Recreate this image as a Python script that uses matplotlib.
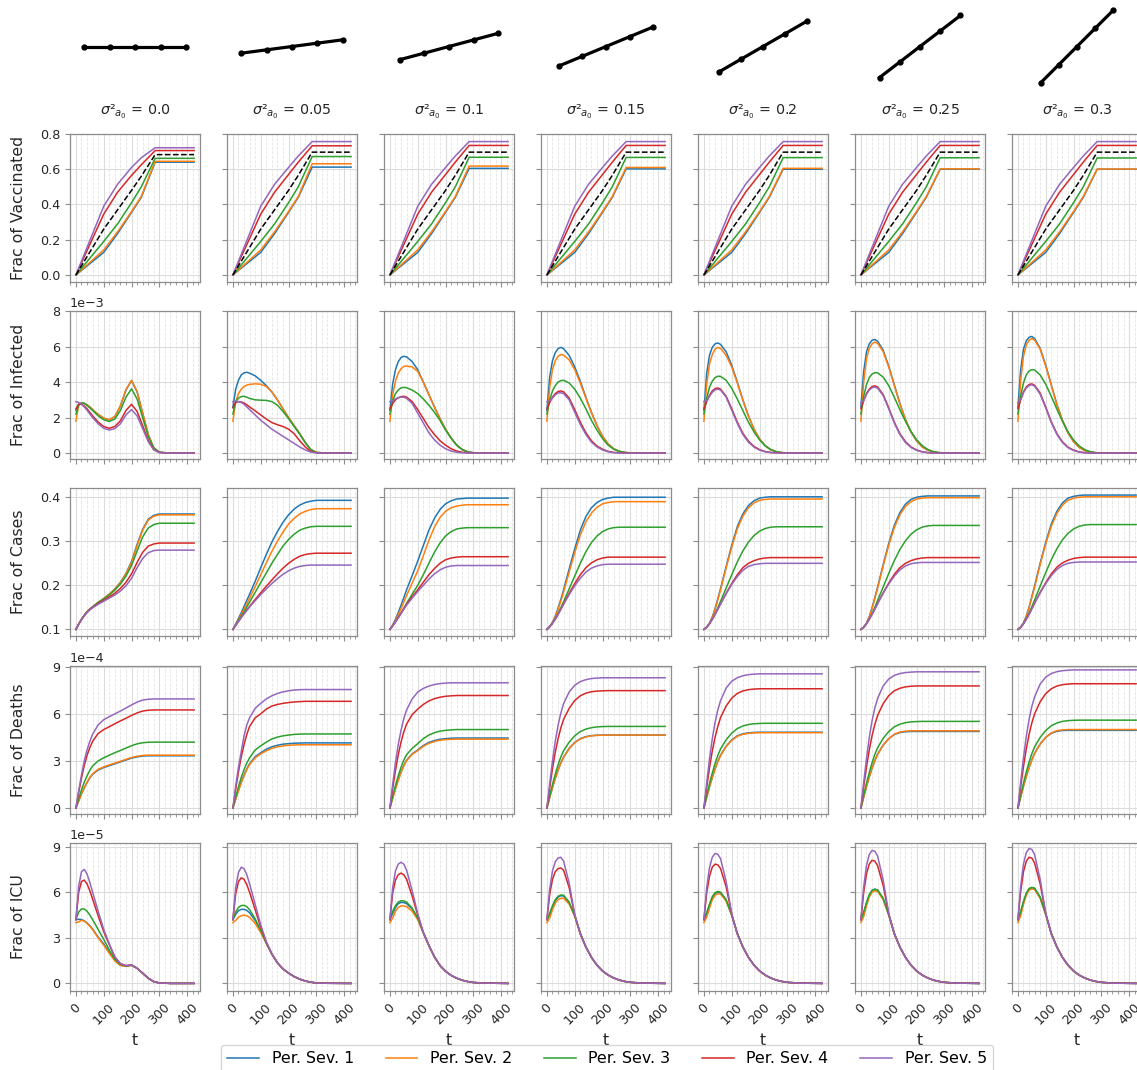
import numpy as np
import matplotlib
matplotlib.use('Agg')
import matplotlib.pyplot as plt
from matplotlib.ticker import MultipleLocator

# ---------------- data ----------------
sigmas = ['0.0', '0.05', '0.1', '0.15', '0.2', '0.25', '0.3']
series_labels = ['Per. Sev. 1', 'Per. Sev. 2', 'Per. Sev. 3', 'Per. Sev. 4', 'Per. Sev. 5']
row_labels = ['Frac of Vaccinated', 'Frac of Infected', 'Frac of Cases', 'Frac of Deaths', 'Frac of ICU']

# top icons: a segment of fixed length tilted more for larger variance
icon_x = [[-0.5, -0.25, 0.0, 0.25, 0.5],
          [-0.4957, -0.2479, 0.0, 0.2479, 0.4957],
          [-0.4830, -0.2415, 0.0, 0.2415, 0.4830],
          [-0.4619, -0.2310, 0.0, 0.2310, 0.4619],
          [-0.4330, -0.2165, 0.0, 0.2165, 0.4330],
          [-0.3967, -0.1984, 0.0, 0.1984, 0.3967],
          [-0.3536, -0.1768, 0.0, 0.1768, 0.3536]]
icon_y = [[0.0, 0.0, 0.0, 0.0, 0.0],
          [-0.0653, -0.0326, 0.0, 0.0326, 0.0653],
          [-0.1294, -0.0647, 0.0, 0.0647, 0.1294],
          [-0.1913, -0.0957, 0.0, 0.0957, 0.1913],
          [-0.25, -0.125, 0.0, 0.125, 0.25],
          [-0.3044, -0.1522, 0.0, 0.1522, 0.3044],
          [-0.3536, -0.1768, 0.0, 0.1768, 0.3536]]

# vaccinated (piecewise linear schedule)
t_vacc = [0, 100, 150, 200, 235, 285, 425]
vacc_0 = [[0, 0.128, 0.235, 0.355, 0.44, 0.64, 0.64],
          [0, 0.142, 0.245, 0.36, 0.445, 0.645, 0.645],
          [0, 0.19, 0.29, 0.41, 0.50, 0.662, 0.662],
          [0, 0.345, 0.47, 0.565, 0.625, 0.706, 0.706],
          [0, 0.39, 0.515, 0.61, 0.665, 0.722, 0.722]]
vacc_1 = [[0, 0.128, 0.235, 0.355, 0.44, 0.612, 0.612],
          [0, 0.142, 0.245, 0.36, 0.445, 0.631, 0.631],
          [0, 0.19, 0.29, 0.41, 0.50, 0.672, 0.672],
          [0, 0.345, 0.47, 0.57, 0.64, 0.733, 0.733],
          [0, 0.39, 0.515, 0.61, 0.675, 0.757, 0.757]]
vacc_2 = [[0, 0.128, 0.235, 0.355, 0.44, 0.605, 0.605],
          [0, 0.142, 0.245, 0.36, 0.445, 0.618, 0.618],
          [0, 0.19, 0.29, 0.41, 0.50, 0.668, 0.668],
          [0, 0.345, 0.47, 0.57, 0.64, 0.735, 0.735],
          [0, 0.39, 0.515, 0.61, 0.675, 0.757, 0.757]]
vacc_3 = [[0, 0.128, 0.235, 0.355, 0.44, 0.602, 0.602],
          [0, 0.142, 0.245, 0.36, 0.445, 0.61, 0.61],
          [0, 0.19, 0.29, 0.41, 0.50, 0.667, 0.667],
          [0, 0.345, 0.47, 0.57, 0.64, 0.735, 0.735],
          [0, 0.39, 0.515, 0.61, 0.675, 0.757, 0.757]]
vacc_4 = [[0, 0.128, 0.235, 0.355, 0.44, 0.600, 0.600],
          [0, 0.142, 0.245, 0.36, 0.445, 0.605, 0.605],
          [0, 0.19, 0.29, 0.41, 0.50, 0.666, 0.666],
          [0, 0.345, 0.47, 0.57, 0.64, 0.735, 0.735],
          [0, 0.39, 0.515, 0.61, 0.675, 0.757, 0.757]]
vacc_5 = [[0, 0.128, 0.235, 0.355, 0.44, 0.600, 0.600],
          [0, 0.142, 0.245, 0.36, 0.445, 0.602, 0.602],
          [0, 0.19, 0.29, 0.41, 0.50, 0.665, 0.665],
          [0, 0.345, 0.47, 0.57, 0.64, 0.735, 0.735],
          [0, 0.39, 0.515, 0.61, 0.675, 0.757, 0.757]]
vacc_6 = [[0, 0.128, 0.235, 0.355, 0.44, 0.600, 0.600],
          [0, 0.142, 0.245, 0.36, 0.445, 0.601, 0.601],
          [0, 0.19, 0.29, 0.41, 0.50, 0.664, 0.664],
          [0, 0.345, 0.47, 0.57, 0.64, 0.735, 0.735],
          [0, 0.39, 0.515, 0.61, 0.675, 0.757, 0.757]]
vacc_avg = [[0, 0.26, 0.37, 0.48, 0.56, 0.683, 0.683],
            [0, 0.26, 0.37, 0.48, 0.565, 0.697, 0.697],
            [0, 0.26, 0.37, 0.48, 0.565, 0.697, 0.697],
            [0, 0.26, 0.37, 0.48, 0.565, 0.697, 0.697],
            [0, 0.26, 0.37, 0.48, 0.565, 0.697, 0.697],
            [0, 0.26, 0.37, 0.48, 0.565, 0.697, 0.697],
            [0, 0.26, 0.37, 0.48, 0.565, 0.697, 0.697]]

t_days = [0, 10, 20, 30, 40, 50, 60, 80, 100, 120, 140, 160, 180, 200, 220, 240, 260, 280, 300, 340, 425]

# infected, units of 1e-3
inf_0 = [[2.4, 2.75, 2.83, 2.8, 2.72, 2.6, 2.45, 2.18, 1.97, 1.87, 2.05, 2.65, 3.55, 4.08, 3.45, 2.25, 1.05, 0.3, 0.05, 0.0, 0.0],
         [1.8, 2.7, 2.83, 2.8, 2.72, 2.6, 2.45, 2.18, 1.97, 1.88, 2.06, 2.67, 3.58, 4.1, 3.47, 2.25, 1.05, 0.3, 0.05, 0.0, 0.0],
         [2.2, 2.7, 2.82, 2.8, 2.68, 2.55, 2.4, 2.1, 1.88, 1.78, 1.92, 2.4, 3.15, 3.62, 3.05, 2.0, 0.95, 0.28, 0.05, 0.0, 0.0],
         [2.5, 2.75, 2.75, 2.65, 2.5, 2.3, 2.1, 1.75, 1.5, 1.4, 1.5, 1.82, 2.4, 2.75, 2.35, 1.55, 0.72, 0.2, 0.04, 0.0, 0.0],
         [2.9, 2.85, 2.75, 2.6, 2.42, 2.2, 2.0, 1.65, 1.4, 1.3, 1.38, 1.65, 2.15, 2.45, 2.1, 1.38, 0.65, 0.18, 0.03, 0.0, 0.0]]
inf_1 = [[2.6, 3.6, 4.1, 4.4, 4.52, 4.55, 4.5, 4.35, 4.1, 3.8, 3.45, 3.0, 2.5, 2.0, 1.55, 1.1, 0.6, 0.2, 0.04, 0.0, 0.0],
         [1.8, 2.9, 3.35, 3.6, 3.75, 3.83, 3.87, 3.9, 3.88, 3.75, 3.45, 3.0, 2.5, 2.0, 1.55, 1.1, 0.6, 0.2, 0.04, 0.0, 0.0],
         [2.2, 2.9, 3.1, 3.18, 3.2, 3.15, 3.08, 3.0, 2.98, 2.97, 2.9, 2.7, 2.35, 1.95, 1.5, 1.08, 0.6, 0.2, 0.04, 0.0, 0.0],
         [2.55, 2.85, 2.9, 2.88, 2.82, 2.72, 2.6, 2.38, 2.15, 1.92, 1.72, 1.6, 1.5, 1.35, 1.1, 0.7, 0.35, 0.1, 0.02, 0.0, 0.0],
         [2.9, 2.92, 2.9, 2.85, 2.75, 2.6, 2.45, 2.15, 1.85, 1.6, 1.35, 1.15, 0.95, 0.75, 0.55, 0.35, 0.18, 0.06, 0.02, 0.0, 0.0]]
inf_2 = [[2.4, 3.9, 4.7, 5.15, 5.38, 5.45, 5.42, 5.15, 4.7, 4.0, 3.3, 2.6, 1.95, 1.35, 0.85, 0.45, 0.2, 0.07, 0.02, 0.0, 0.0],
         [1.8, 3.3, 4.05, 4.5, 4.75, 4.88, 4.9, 4.85, 4.6, 4.0, 3.3, 2.6, 1.95, 1.35, 0.85, 0.45, 0.2, 0.07, 0.02, 0.0, 0.0],
         [2.2, 2.95, 3.35, 3.55, 3.67, 3.7, 3.68, 3.55, 3.35, 3.05, 2.7, 2.3, 1.85, 1.3, 0.85, 0.45, 0.2, 0.07, 0.02, 0.0, 0.0],
         [2.5, 2.8, 3.0, 3.12, 3.18, 3.2, 3.15, 2.9, 2.45, 1.95, 1.45, 1.05, 0.7, 0.45, 0.25, 0.12, 0.05, 0.02, 0.01, 0.0, 0.0],
         [2.9, 2.95, 3.05, 3.12, 3.15, 3.15, 3.08, 2.8, 2.25, 1.7, 1.15, 0.75, 0.45, 0.25, 0.12, 0.05, 0.02, 0.01, 0.0, 0.0, 0.0]]
inf_3 = [[2.4, 4.3, 5.2, 5.65, 5.88, 5.95, 5.88, 5.5, 4.85, 4.05, 3.15, 2.3, 1.55, 0.95, 0.52, 0.25, 0.1, 0.04, 0.01, 0.0, 0.0],
         [1.8, 3.7, 4.7, 5.2, 5.45, 5.55, 5.52, 5.25, 4.7, 3.95, 3.1, 2.28, 1.55, 0.95, 0.52, 0.25, 0.1, 0.04, 0.01, 0.0, 0.0],
         [2.2, 3.0, 3.5, 3.8, 4.0, 4.08, 4.1, 3.95, 3.6, 3.1, 2.5, 1.85, 1.3, 0.82, 0.45, 0.22, 0.1, 0.04, 0.01, 0.0, 0.0],
         [2.5, 2.85, 3.15, 3.35, 3.47, 3.5, 3.45, 3.1, 2.45, 1.75, 1.15, 0.7, 0.4, 0.22, 0.1, 0.04, 0.02, 0.01, 0.0, 0.0, 0.0],
         [2.9, 2.95, 3.1, 3.28, 3.38, 3.4, 3.35, 3.0, 2.3, 1.62, 1.05, 0.62, 0.35, 0.18, 0.08, 0.03, 0.01, 0.0, 0.0, 0.0, 0.0]]
inf_4 = [[2.4, 4.5, 5.5, 5.95, 6.15, 6.2, 6.12, 5.7, 4.95, 4.0, 3.0, 2.1, 1.35, 0.8, 0.42, 0.2, 0.08, 0.03, 0.01, 0.0, 0.0],
         [1.8, 3.9, 5.0, 5.55, 5.85, 5.95, 5.9, 5.5, 4.85, 3.95, 2.98, 2.1, 1.35, 0.8, 0.42, 0.2, 0.08, 0.03, 0.01, 0.0, 0.0],
         [2.2, 3.1, 3.7, 4.05, 4.25, 4.33, 4.32, 4.1, 3.65, 3.05, 2.4, 1.75, 1.2, 0.75, 0.42, 0.2, 0.08, 0.03, 0.01, 0.0, 0.0],
         [2.5, 2.9, 3.25, 3.5, 3.63, 3.67, 3.6, 3.2, 2.5, 1.75, 1.12, 0.68, 0.38, 0.2, 0.09, 0.04, 0.02, 0.01, 0.0, 0.0, 0.0],
         [2.9, 2.95, 3.2, 3.42, 3.56, 3.6, 3.55, 3.15, 2.42, 1.68, 1.05, 0.62, 0.34, 0.17, 0.08, 0.03, 0.01, 0.0, 0.0, 0.0, 0.0]]
inf_5 = [[2.6, 4.6, 5.7, 6.15, 6.35, 6.4, 6.3, 5.8, 4.9, 3.85, 2.8, 1.9, 1.2, 0.7, 0.36, 0.17, 0.07, 0.03, 0.01, 0.0, 0.0],
         [1.8, 4.0, 5.3, 5.9, 6.15, 6.25, 6.18, 5.72, 4.85, 3.82, 2.78, 1.9, 1.2, 0.7, 0.36, 0.17, 0.07, 0.03, 0.01, 0.0, 0.0],
         [2.2, 3.2, 3.85, 4.25, 4.45, 4.53, 4.52, 4.28, 3.8, 3.15, 2.45, 1.8, 1.22, 0.76, 0.43, 0.21, 0.09, 0.03, 0.01, 0.0, 0.0],
         [2.5, 2.95, 3.35, 3.6, 3.75, 3.79, 3.72, 3.3, 2.55, 1.75, 1.1, 0.65, 0.35, 0.18, 0.08, 0.03, 0.01, 0.0, 0.0, 0.0, 0.0],
         [2.85, 2.95, 3.3, 3.55, 3.68, 3.72, 3.66, 3.24, 2.5, 1.7, 1.05, 0.6, 0.32, 0.16, 0.07, 0.03, 0.01, 0.0, 0.0, 0.0, 0.0]]
inf_6 = [[2.6, 4.7, 5.85, 6.32, 6.52, 6.57, 6.45, 5.9, 4.95, 3.85, 2.75, 1.85, 1.15, 0.65, 0.33, 0.15, 0.06, 0.02, 0.01, 0.0, 0.0],
         [1.8, 4.1, 5.45, 6.08, 6.35, 6.45, 6.36, 5.85, 4.9, 3.82, 2.73, 1.85, 1.15, 0.65, 0.33, 0.15, 0.06, 0.02, 0.01, 0.0, 0.0],
         [2.2, 3.25, 3.95, 4.4, 4.62, 4.7, 4.68, 4.4, 3.88, 3.2, 2.48, 1.8, 1.2, 0.74, 0.41, 0.2, 0.08, 0.03, 0.01, 0.0, 0.0],
         [2.5, 3.0, 3.45, 3.72, 3.86, 3.9, 3.82, 3.38, 2.6, 1.77, 1.1, 0.64, 0.34, 0.17, 0.07, 0.03, 0.01, 0.0, 0.0, 0.0, 0.0],
         [2.85, 3.0, 3.4, 3.67, 3.8, 3.85, 3.77, 3.32, 2.55, 1.72, 1.06, 0.6, 0.31, 0.15, 0.06, 0.02, 0.01, 0.0, 0.0, 0.0, 0.0]]

# cumulative cases
cases_0 = [[0.1, 0.112, 0.123, 0.132, 0.14, 0.146, 0.151, 0.161, 0.17, 0.18, 0.192, 0.207, 0.227, 0.254, 0.293, 0.327, 0.35, 0.359, 0.362, 0.362, 0.362],
           [0.1, 0.112, 0.123, 0.132, 0.14, 0.146, 0.151, 0.161, 0.17, 0.18, 0.191, 0.206, 0.226, 0.252, 0.29, 0.325, 0.348, 0.357, 0.36, 0.36, 0.36],
           [0.1, 0.112, 0.123, 0.132, 0.14, 0.146, 0.151, 0.161, 0.169, 0.178, 0.189, 0.203, 0.221, 0.245, 0.278, 0.31, 0.33, 0.338, 0.341, 0.341, 0.341],
           [0.1, 0.112, 0.122, 0.131, 0.139, 0.145, 0.15, 0.159, 0.166, 0.174, 0.182, 0.193, 0.207, 0.226, 0.252, 0.275, 0.289, 0.294, 0.296, 0.296, 0.296],
           [0.1, 0.112, 0.122, 0.131, 0.138, 0.144, 0.149, 0.157, 0.164, 0.171, 0.178, 0.187, 0.199, 0.216, 0.24, 0.261, 0.274, 0.279, 0.28, 0.28, 0.28]]
cases_1 = [[0.1, 0.112, 0.125, 0.138, 0.152, 0.166, 0.18, 0.209, 0.24, 0.27, 0.298, 0.322, 0.343, 0.36, 0.373, 0.382, 0.388, 0.391, 0.393, 0.393, 0.393],
           [0.1, 0.111, 0.122, 0.134, 0.146, 0.158, 0.171, 0.197, 0.224, 0.251, 0.277, 0.3, 0.321, 0.339, 0.352, 0.362, 0.368, 0.372, 0.374, 0.374, 0.374],
           [0.1, 0.11, 0.12, 0.13, 0.14, 0.151, 0.162, 0.184, 0.206, 0.228, 0.25, 0.27, 0.289, 0.304, 0.316, 0.325, 0.33, 0.333, 0.334, 0.334, 0.334],
           [0.1, 0.109, 0.118, 0.127, 0.136, 0.144, 0.152, 0.168, 0.183, 0.198, 0.212, 0.226, 0.239, 0.25, 0.259, 0.266, 0.27, 0.272, 0.273, 0.273, 0.273],
           [0.1, 0.109, 0.118, 0.127, 0.135, 0.143, 0.151, 0.165, 0.179, 0.192, 0.204, 0.215, 0.225, 0.233, 0.239, 0.243, 0.245, 0.246, 0.246, 0.246, 0.246]]
cases_2 = [[0.1, 0.11, 0.123, 0.138, 0.155, 0.172, 0.19, 0.222, 0.255, 0.29, 0.325, 0.352, 0.372, 0.385, 0.392, 0.396, 0.397, 0.398, 0.398, 0.398, 0.398],
           [0.1, 0.109, 0.12, 0.133, 0.147, 0.162, 0.177, 0.205, 0.233, 0.267, 0.302, 0.332, 0.354, 0.368, 0.376, 0.38, 0.382, 0.383, 0.383, 0.383, 0.383],
           [0.1, 0.108, 0.117, 0.127, 0.137, 0.148, 0.159, 0.18, 0.2, 0.224, 0.25, 0.275, 0.296, 0.312, 0.322, 0.328, 0.33, 0.331, 0.331, 0.331, 0.331],
           [0.1, 0.108, 0.117, 0.127, 0.137, 0.147, 0.157, 0.174, 0.19, 0.207, 0.224, 0.238, 0.25, 0.258, 0.262, 0.264, 0.265, 0.265, 0.265, 0.265, 0.265],
           [0.1, 0.108, 0.117, 0.126, 0.136, 0.146, 0.155, 0.171, 0.186, 0.2, 0.214, 0.226, 0.235, 0.241, 0.244, 0.245, 0.245, 0.245, 0.245, 0.245, 0.245]]
cases_3 = [[0.1, 0.106, 0.116, 0.13, 0.148, 0.168, 0.19, 0.237, 0.283, 0.325, 0.356, 0.376, 0.388, 0.395, 0.398, 0.4, 0.4, 0.4, 0.4, 0.4, 0.4],
           [0.1, 0.106, 0.115, 0.128, 0.145, 0.164, 0.185, 0.23, 0.274, 0.314, 0.344, 0.364, 0.377, 0.385, 0.388, 0.39, 0.39, 0.39, 0.39, 0.39, 0.39],
           [0.1, 0.106, 0.114, 0.124, 0.136, 0.149, 0.163, 0.192, 0.221, 0.25, 0.276, 0.297, 0.312, 0.322, 0.328, 0.331, 0.332, 0.332, 0.332, 0.332, 0.332],
           [0.1, 0.106, 0.114, 0.123, 0.134, 0.146, 0.158, 0.182, 0.204, 0.224, 0.24, 0.251, 0.258, 0.262, 0.264, 0.264, 0.264, 0.264, 0.264, 0.264, 0.264],
           [0.1, 0.106, 0.114, 0.123, 0.134, 0.145, 0.157, 0.179, 0.199, 0.216, 0.23, 0.239, 0.244, 0.247, 0.248, 0.248, 0.248, 0.248, 0.248, 0.248, 0.248]]
cases_4 = [[0.1, 0.105, 0.114, 0.128, 0.147, 0.169, 0.193, 0.243, 0.291, 0.333, 0.362, 0.381, 0.392, 0.398, 0.4, 0.401, 0.401, 0.401, 0.401, 0.401, 0.401],
           [0.1, 0.105, 0.113, 0.127, 0.145, 0.167, 0.19, 0.24, 0.287, 0.328, 0.357, 0.376, 0.387, 0.393, 0.395, 0.396, 0.396, 0.396, 0.396, 0.396, 0.396],
           [0.1, 0.105, 0.113, 0.123, 0.135, 0.149, 0.164, 0.194, 0.224, 0.253, 0.278, 0.298, 0.313, 0.323, 0.329, 0.332, 0.333, 0.333, 0.333, 0.333, 0.333],
           [0.1, 0.105, 0.113, 0.123, 0.134, 0.146, 0.158, 0.182, 0.204, 0.224, 0.24, 0.25, 0.256, 0.26, 0.262, 0.263, 0.263, 0.263, 0.263, 0.263, 0.263],
           [0.1, 0.105, 0.113, 0.123, 0.134, 0.146, 0.158, 0.181, 0.202, 0.22, 0.234, 0.243, 0.247, 0.249, 0.25, 0.25, 0.25, 0.25, 0.25, 0.25, 0.25]]
cases_5 = [[0.1, 0.105, 0.114, 0.129, 0.149, 0.172, 0.196, 0.247, 0.295, 0.336, 0.365, 0.384, 0.395, 0.4, 0.402, 0.403, 0.403, 0.403, 0.403, 0.403, 0.403],
           [0.1, 0.105, 0.113, 0.128, 0.147, 0.17, 0.193, 0.244, 0.291, 0.331, 0.36, 0.379, 0.39, 0.396, 0.398, 0.399, 0.399, 0.399, 0.399, 0.399, 0.399],
           [0.1, 0.105, 0.113, 0.123, 0.136, 0.15, 0.166, 0.196, 0.227, 0.256, 0.281, 0.301, 0.316, 0.326, 0.332, 0.335, 0.336, 0.336, 0.336, 0.336, 0.336],
           [0.1, 0.105, 0.113, 0.123, 0.134, 0.146, 0.159, 0.183, 0.205, 0.225, 0.24, 0.25, 0.256, 0.26, 0.262, 0.263, 0.263, 0.263, 0.263, 0.263, 0.263],
           [0.1, 0.105, 0.113, 0.123, 0.134, 0.146, 0.158, 0.182, 0.203, 0.221, 0.235, 0.244, 0.249, 0.251, 0.252, 0.252, 0.252, 0.252, 0.252, 0.252, 0.252]]
cases_6 = [[0.1, 0.105, 0.115, 0.13, 0.15, 0.174, 0.199, 0.25, 0.298, 0.339, 0.368, 0.387, 0.398, 0.402, 0.404, 0.405, 0.405, 0.405, 0.405, 0.405, 0.405],
           [0.1, 0.105, 0.114, 0.129, 0.149, 0.172, 0.196, 0.247, 0.294, 0.334, 0.363, 0.382, 0.393, 0.398, 0.4, 0.401, 0.401, 0.401, 0.401, 0.401, 0.401],
           [0.1, 0.105, 0.113, 0.124, 0.137, 0.151, 0.167, 0.198, 0.229, 0.258, 0.283, 0.303, 0.318, 0.328, 0.334, 0.337, 0.338, 0.338, 0.338, 0.338, 0.338],
           [0.1, 0.105, 0.113, 0.123, 0.134, 0.147, 0.16, 0.184, 0.206, 0.226, 0.241, 0.251, 0.257, 0.261, 0.263, 0.264, 0.264, 0.264, 0.264, 0.264, 0.264],
           [0.1, 0.105, 0.113, 0.123, 0.134, 0.146, 0.159, 0.183, 0.204, 0.222, 0.236, 0.245, 0.25, 0.252, 0.253, 0.253, 0.253, 0.253, 0.253, 0.253, 0.253]]

# cumulative deaths, units of 1e-4
deaths_0 = [[0, 0.45, 0.9, 1.28, 1.62, 1.92, 2.15, 2.42, 2.58, 2.7, 2.82, 2.94, 3.06, 3.18, 3.26, 3.31, 3.33, 3.33, 3.33, 3.33, 3.33],
            [0, 0.45, 0.9, 1.3, 1.65, 1.95, 2.18, 2.47, 2.62, 2.75, 2.86, 2.98, 3.1, 3.22, 3.3, 3.35, 3.37, 3.37, 3.37, 3.37, 3.37],
            [0, 0.6, 1.15, 1.65, 2.05, 2.4, 2.68, 3.0, 3.2, 3.37, 3.52, 3.67, 3.82, 3.97, 4.09, 4.16, 4.19, 4.2, 4.2, 4.2, 4.2],
            [0, 1.0, 1.9, 2.7, 3.35, 3.85, 4.25, 4.75, 5.0, 5.18, 5.37, 5.55, 5.72, 5.9, 6.06, 6.18, 6.23, 6.25, 6.25, 6.25, 6.25],
            [0, 1.1, 2.1, 3.0, 3.7, 4.25, 4.7, 5.3, 5.63, 5.82, 6.0, 6.18, 6.37, 6.57, 6.75, 6.88, 6.93, 6.95, 6.95, 6.95, 6.95]]
deaths_1 = [[0, 0.6, 1.15, 1.65, 2.1, 2.5, 2.82, 3.27, 3.52, 3.75, 3.9, 4.0, 4.07, 4.1, 4.13, 4.14, 4.15, 4.15, 4.15, 4.15, 4.15],
            [0, 0.55, 1.1, 1.6, 2.05, 2.45, 2.77, 3.2, 3.45, 3.65, 3.8, 3.9, 3.96, 4.0, 4.02, 4.03, 4.03, 4.03, 4.03, 4.03, 4.03],
            [0, 0.7, 1.35, 1.95, 2.45, 2.87, 3.2, 3.7, 3.96, 4.2, 4.4, 4.52, 4.6, 4.65, 4.69, 4.71, 4.72, 4.72, 4.72, 4.72, 4.72],
            [0, 1.2, 2.3, 3.25, 4.05, 4.7, 5.2, 5.75, 6.0, 6.3, 6.5, 6.6, 6.67, 6.72, 6.76, 6.78, 6.8, 6.8, 6.8, 6.8, 6.8],
            [0, 1.4, 2.6, 3.6, 4.6, 5.3, 5.75, 6.35, 6.67, 6.95, 7.15, 7.3, 7.4, 7.47, 7.52, 7.54, 7.55, 7.55, 7.55, 7.55, 7.55]]
deaths_2 = [[0, 0.65, 1.25, 1.8, 2.3, 2.72, 3.05, 3.45, 3.7, 3.98, 4.18, 4.3, 4.38, 4.42, 4.45, 4.46, 4.46, 4.46, 4.46, 4.46, 4.46],
            [0, 0.62, 1.22, 1.77, 2.27, 2.69, 3.02, 3.42, 3.66, 3.93, 4.12, 4.24, 4.32, 4.36, 4.38, 4.39, 4.39, 4.39, 4.39, 4.39, 4.39],
            [0, 0.75, 1.45, 2.05, 2.6, 3.05, 3.4, 3.8, 4.1, 4.42, 4.65, 4.8, 4.9, 4.95, 4.98, 5.0, 5.0, 5.0, 5.0, 5.0, 5.0],
            [0, 1.25, 2.4, 3.4, 4.2, 4.85, 5.35, 5.95, 6.3, 6.6, 6.82, 6.97, 7.06, 7.12, 7.15, 7.17, 7.17, 7.17, 7.17, 7.17, 7.17],
            [0, 1.5, 2.9, 4.05, 4.95, 5.7, 6.25, 6.95, 7.39, 7.62, 7.77, 7.87, 7.93, 7.96, 7.98, 7.98, 7.98, 7.98, 7.98, 7.98, 7.98]]
deaths_3 = [[0, 0.68, 1.32, 1.9, 2.42, 2.87, 3.25, 3.8, 4.18, 4.42, 4.55, 4.61, 4.64, 4.65, 4.65, 4.65, 4.65, 4.65, 4.65, 4.65, 4.65],
            [0, 0.66, 1.3, 1.88, 2.4, 2.85, 3.23, 3.78, 4.16, 4.4, 4.53, 4.6, 4.63, 4.64, 4.65, 4.65, 4.65, 4.65, 4.65, 4.65, 4.65],
            [0, 0.78, 1.5, 2.15, 2.75, 3.25, 3.65, 4.2, 4.6, 4.87, 5.03, 5.12, 5.17, 5.19, 5.2, 5.2, 5.2, 5.2, 5.2, 5.2, 5.2],
            [0, 1.3, 2.5, 3.55, 4.4, 5.1, 5.65, 6.35, 6.85, 7.15, 7.32, 7.41, 7.45, 7.47, 7.48, 7.48, 7.48, 7.48, 7.48, 7.48, 7.48],
            [0, 1.55, 3.0, 4.25, 5.25, 6.05, 6.65, 7.4, 7.82, 8.05, 8.18, 8.25, 8.28, 8.3, 8.3, 8.3, 8.3, 8.3, 8.3, 8.3, 8.3]]
deaths_4 = [[0, 0.7, 1.36, 1.96, 2.5, 2.97, 3.37, 3.94, 4.34, 4.6, 4.73, 4.79, 4.82, 4.83, 4.83, 4.83, 4.83, 4.83, 4.83, 4.83, 4.83],
            [0, 0.68, 1.34, 1.94, 2.48, 2.95, 3.35, 3.92, 4.31, 4.57, 4.7, 4.76, 4.79, 4.8, 4.8, 4.8, 4.8, 4.8, 4.8, 4.8, 4.8],
            [0, 0.8, 1.55, 2.22, 2.83, 3.35, 3.77, 4.35, 4.77, 5.06, 5.23, 5.32, 5.37, 5.39, 5.4, 5.4, 5.4, 5.4, 5.4, 5.4, 5.4],
            [0, 1.32, 2.55, 3.62, 4.5, 5.2, 5.77, 6.5, 7.0, 7.3, 7.46, 7.54, 7.58, 7.6, 7.6, 7.6, 7.6, 7.6, 7.6, 7.6, 7.6],
            [0, 1.6, 3.1, 4.4, 5.45, 6.25, 6.85, 7.65, 8.08, 8.3, 8.43, 8.5, 8.53, 8.55, 8.55, 8.55, 8.55, 8.55, 8.55, 8.55, 8.55]]
deaths_5 = [[0, 0.71, 1.38, 1.99, 2.54, 3.02, 3.43, 4.01, 4.42, 4.68, 4.81, 4.86, 4.88, 4.88, 4.88, 4.88, 4.88, 4.88, 4.88, 4.88, 4.88],
            [0, 0.69, 1.36, 1.97, 2.52, 3.0, 3.41, 4.0, 4.42, 4.7, 4.84, 4.9, 4.92, 4.92, 4.92, 4.92, 4.92, 4.92, 4.92, 4.92, 4.92],
            [0, 0.81, 1.57, 2.26, 2.88, 3.41, 3.84, 4.44, 4.87, 5.17, 5.34, 5.44, 5.49, 5.51, 5.52, 5.52, 5.52, 5.52, 5.52, 5.52, 5.52],
            [0, 1.35, 2.6, 3.7, 4.6, 5.32, 5.9, 6.65, 7.16, 7.47, 7.63, 7.72, 7.76, 7.78, 7.78, 7.78, 7.78, 7.78, 7.78, 7.78, 7.78],
            [0, 1.62, 3.15, 4.48, 5.55, 6.37, 6.98, 7.78, 8.22, 8.45, 8.57, 8.63, 8.66, 8.68, 8.68, 8.68, 8.68, 8.68, 8.68, 8.68, 8.68]]
deaths_6 = [[0, 0.72, 1.4, 2.02, 2.58, 3.07, 3.49, 4.08, 4.5, 4.76, 4.89, 4.94, 4.95, 4.95, 4.95, 4.95, 4.95, 4.95, 4.95, 4.95, 4.95],
            [0, 0.7, 1.38, 2.0, 2.56, 3.05, 3.47, 4.07, 4.5, 4.79, 4.93, 4.98, 5.0, 5.0, 5.0, 5.0, 5.0, 5.0, 5.0, 5.0, 5.0],
            [0, 0.82, 1.59, 2.29, 2.92, 3.46, 3.9, 4.5, 4.94, 5.24, 5.42, 5.52, 5.57, 5.59, 5.6, 5.6, 5.6, 5.6, 5.6, 5.6, 5.6],
            [0, 1.37, 2.64, 3.76, 4.68, 5.42, 6.0, 6.77, 7.29, 7.6, 7.77, 7.86, 7.9, 7.92, 7.92, 7.92, 7.92, 7.92, 7.92, 7.92, 7.92],
            [0, 1.65, 3.2, 4.55, 5.63, 6.47, 7.08, 7.9, 8.34, 8.57, 8.69, 8.75, 8.78, 8.8, 8.8, 8.8, 8.8, 8.8, 8.8, 8.8, 8.8]]

# ICU occupancy, units of 1e-5
icu_0 = [[4.2, 4.22, 4.2, 4.12, 3.98, 3.8, 3.58, 3.05, 2.6, 2.05, 1.52, 1.2, 1.13, 1.19, 0.99, 0.66, 0.34, 0.11, 0.03, 0.0, 0.0],
         [4.0, 4.05, 4.15, 4.1, 3.95, 3.76, 3.54, 3.0, 2.52, 1.98, 1.48, 1.18, 1.12, 1.19, 0.99, 0.66, 0.34, 0.11, 0.03, 0.0, 0.0],
         [4.2, 4.7, 4.9, 4.9, 4.75, 4.5, 4.2, 3.55, 2.9, 2.2, 1.6, 1.25, 1.15, 1.2, 1.0, 0.67, 0.34, 0.11, 0.03, 0.0, 0.0],
         [4.2, 6.0, 6.7, 6.8, 6.55, 6.1, 5.55, 4.45, 3.4, 2.55, 1.73, 1.3, 1.17, 1.22, 1.0, 0.68, 0.35, 0.12, 0.03, 0.0, 0.0],
         [4.2, 6.4, 7.35, 7.5, 7.2, 6.65, 6.0, 4.75, 3.55, 2.6, 1.75, 1.3, 1.17, 1.22, 1.0, 0.68, 0.35, 0.12, 0.03, 0.0, 0.0]]
icu_1 = [[4.2, 4.55, 4.78, 4.87, 4.88, 4.8, 4.65, 4.15, 3.45, 2.68, 1.95, 1.37, 0.96, 0.68, 0.45, 0.28, 0.16, 0.08, 0.03, 0.01, 0.0],
         [4.0, 4.15, 4.35, 4.46, 4.49, 4.45, 4.35, 3.95, 3.35, 2.65, 1.95, 1.37, 0.96, 0.68, 0.45, 0.28, 0.16, 0.08, 0.03, 0.01, 0.0],
         [4.2, 4.7, 5.0, 5.12, 5.14, 5.05, 4.85, 4.25, 3.5, 2.65, 1.92, 1.35, 0.95, 0.68, 0.45, 0.28, 0.16, 0.08, 0.03, 0.01, 0.0],
         [4.2, 5.9, 6.7, 6.95, 6.85, 6.5, 6.0, 4.85, 3.7, 2.7, 1.93, 1.35, 0.95, 0.68, 0.45, 0.28, 0.16, 0.08, 0.03, 0.01, 0.0],
         [4.2, 6.3, 7.3, 7.65, 7.55, 7.15, 6.55, 5.2, 3.85, 2.75, 1.95, 1.35, 0.95, 0.68, 0.45, 0.28, 0.16, 0.08, 0.03, 0.01, 0.0]]
icu_2 = [[4.2, 4.6, 5.0, 5.25, 5.33, 5.32, 5.25, 4.9, 4.3, 3.35, 2.5, 1.75, 1.18, 0.8, 0.53, 0.34, 0.21, 0.12, 0.06, 0.02, 0.0],
         [4.0, 4.3, 4.75, 5.0, 5.1, 5.1, 5.05, 4.75, 4.2, 3.32, 2.5, 1.75, 1.18, 0.8, 0.53, 0.34, 0.21, 0.12, 0.06, 0.02, 0.0],
         [4.2, 4.75, 5.12, 5.35, 5.44, 5.43, 5.35, 4.95, 4.3, 3.35, 2.5, 1.75, 1.18, 0.8, 0.53, 0.34, 0.21, 0.12, 0.06, 0.02, 0.0],
         [4.2, 5.95, 6.8, 7.15, 7.26, 7.15, 6.85, 5.75, 4.5, 3.35, 2.5, 1.75, 1.18, 0.8, 0.53, 0.34, 0.21, 0.12, 0.06, 0.02, 0.0],
         [4.2, 6.3, 7.4, 7.85, 7.97, 7.85, 7.45, 6.1, 4.6, 3.35, 2.5, 1.75, 1.18, 0.8, 0.53, 0.34, 0.21, 0.12, 0.06, 0.02, 0.0]]
icu_3 = [[4.2, 4.55, 5.05, 5.45, 5.68, 5.77, 5.75, 5.3, 4.45, 3.3, 2.4, 1.72, 1.2, 0.82, 0.55, 0.36, 0.22, 0.13, 0.07, 0.02, 0.0],
         [4.0, 4.3, 4.85, 5.28, 5.52, 5.6, 5.6, 5.22, 4.42, 3.3, 2.4, 1.72, 1.2, 0.82, 0.55, 0.36, 0.22, 0.13, 0.07, 0.02, 0.0],
         [4.2, 4.6, 5.1, 5.5, 5.73, 5.82, 5.8, 5.35, 4.45, 3.3, 2.4, 1.72, 1.2, 0.82, 0.55, 0.36, 0.22, 0.13, 0.07, 0.02, 0.0],
         [4.2, 5.85, 6.85, 7.35, 7.55, 7.6, 7.45, 6.3, 4.5, 3.25, 2.4, 1.72, 1.2, 0.82, 0.55, 0.36, 0.22, 0.13, 0.07, 0.02, 0.0],
         [4.2, 6.2, 7.4, 8.0, 8.25, 8.3, 8.05, 6.6, 4.55, 3.25, 2.4, 1.72, 1.2, 0.82, 0.55, 0.36, 0.22, 0.13, 0.07, 0.02, 0.0]]
icu_4 = [[4.2, 4.6, 5.15, 5.65, 5.92, 6.0, 5.96, 5.48, 4.5, 3.3, 2.4, 1.72, 1.2, 0.82, 0.55, 0.36, 0.22, 0.13, 0.07, 0.02, 0.0],
         [4.0, 4.35, 4.95, 5.5, 5.8, 5.9, 5.88, 5.42, 4.48, 3.3, 2.4, 1.72, 1.2, 0.82, 0.55, 0.36, 0.22, 0.13, 0.07, 0.02, 0.0],
         [4.2, 4.65, 5.2, 5.7, 5.97, 6.05, 6.0, 5.5, 4.5, 3.3, 2.4, 1.72, 1.2, 0.82, 0.55, 0.36, 0.22, 0.13, 0.07, 0.02, 0.0],
         [4.2, 5.95, 7.05, 7.65, 7.85, 7.8, 7.55, 6.35, 4.55, 3.25, 2.4, 1.72, 1.2, 0.82, 0.55, 0.36, 0.22, 0.13, 0.07, 0.02, 0.0],
         [4.2, 6.3, 7.6, 8.3, 8.55, 8.5, 8.2, 6.7, 4.6, 3.25, 2.4, 1.72, 1.2, 0.82, 0.55, 0.36, 0.22, 0.13, 0.07, 0.02, 0.0]]
icu_5 = [[4.2, 4.65, 5.28, 5.82, 6.12, 6.2, 6.14, 5.58, 4.52, 3.3, 2.4, 1.72, 1.2, 0.82, 0.55, 0.36, 0.22, 0.13, 0.07, 0.02, 0.0],
         [4.0, 4.4, 5.1, 5.68, 6.0, 6.1, 6.05, 5.52, 4.5, 3.3, 2.4, 1.72, 1.2, 0.82, 0.55, 0.36, 0.22, 0.13, 0.07, 0.02, 0.0],
         [4.2, 4.7, 5.3, 5.83, 6.12, 6.2, 6.15, 5.6, 4.52, 3.3, 2.4, 1.72, 1.2, 0.82, 0.55, 0.36, 0.22, 0.13, 0.07, 0.02, 0.0],
         [4.2, 6.0, 7.2, 7.85, 8.1, 8.05, 7.75, 6.45, 4.57, 3.25, 2.4, 1.72, 1.2, 0.82, 0.55, 0.36, 0.22, 0.13, 0.07, 0.02, 0.0],
         [4.2, 6.35, 7.75, 8.48, 8.75, 8.7, 8.38, 6.8, 4.62, 3.25, 2.4, 1.72, 1.2, 0.82, 0.55, 0.36, 0.22, 0.13, 0.07, 0.02, 0.0]]
icu_6 = [[4.2, 4.68, 5.35, 5.91, 6.22, 6.3, 6.25, 5.66, 4.55, 3.3, 2.4, 1.72, 1.2, 0.82, 0.55, 0.36, 0.22, 0.13, 0.07, 0.02, 0.0],
         [4.0, 4.45, 5.2, 5.8, 6.13, 6.22, 6.18, 5.6, 4.53, 3.3, 2.4, 1.72, 1.2, 0.82, 0.55, 0.36, 0.22, 0.13, 0.07, 0.02, 0.0],
         [4.2, 4.72, 5.38, 5.93, 6.24, 6.32, 6.27, 5.68, 4.55, 3.3, 2.4, 1.72, 1.2, 0.82, 0.55, 0.36, 0.22, 0.13, 0.07, 0.02, 0.0],
         [4.2, 6.05, 7.35, 8.03, 8.3, 8.25, 7.92, 6.55, 4.6, 3.25, 2.4, 1.72, 1.2, 0.82, 0.55, 0.36, 0.22, 0.13, 0.07, 0.02, 0.0],
         [4.2, 6.4, 7.85, 8.6, 8.88, 8.82, 8.48, 6.85, 4.62, 3.25, 2.4, 1.72, 1.2, 0.82, 0.55, 0.36, 0.22, 0.13, 0.07, 0.02, 0.0]]

vacc_cols = [vacc_0, vacc_1, vacc_2, vacc_3, vacc_4, vacc_5, vacc_6]
inf_cols = [inf_0, inf_1, inf_2, inf_3, inf_4, inf_5, inf_6]
cases_cols = [cases_0, cases_1, cases_2, cases_3, cases_4, cases_5, cases_6]
deaths_cols = [deaths_0, deaths_1, deaths_2, deaths_3, deaths_4, deaths_5, deaths_6]
icu_cols = [icu_0, icu_1, icu_2, icu_3, icu_4, icu_5, icu_6]

# ---------------- figure ----------------
W, H = 1137, 1070
fig = plt.figure(figsize=(W / 100, H / 100), dpi=100)
colors = ['#1f77b4', '#ff7f0e', '#2ca02c', '#d62728', '#9467bd']

col_left = [70 + 157 * c for c in range(7)]
row_top = [134, 311, 488, 666, 843]
pw, ph = 130, 148

row_units = [1.0, 1e-3, 1.0, 1e-4, 1e-5]
row_ylim = [(-0.04, 0.8), (-0.33e-3, 8.0e-3), (0.085, 0.421), (-0.38e-4, 9.05e-4), (-0.5e-5, 9.24e-5)]
row_major = [0.2, 2e-3, 0.1, 3e-4, 3e-5]
row_data = [vacc_cols, inf_cols, cases_cols, deaths_cols, icu_cols]

spine_col = '#8c8c8c'
txt_col = '#262626'
tick_fs = 9.2
axes = [[None] * 7 for _ in range(5)]
handles = None
for r in range(5):
    for c in range(7):
        l = col_left[c] / W
        b = 1 - (row_top[r] + ph) / H
        kw = {}
        if not (r == 0 and c == 0):
            kw['sharex'] = axes[0][0]
        if c > 0:
            kw['sharey'] = axes[r][0]
        ax = fig.add_axes([l, b, pw / W, ph / H], **kw)
        axes[r][c] = ax
        ax.set_axisbelow(True)
        tt = t_vacc if r == 0 else t_days
        hs = []
        for k, ser in enumerate(row_data[r][c]):
            h, = ax.plot(tt, np.array(ser) * row_units[r], color=colors[k], lw=1.1,
                         label=series_labels[k])
            hs.append(h)
        if r == 0:
            ax.plot(t_vacc, vacc_avg[c], color='black', ls='--', lw=1.1)
        if handles is None:
            handles = hs
        ax.set_ylim(*row_ylim[r])
        ax.yaxis.set_major_locator(MultipleLocator(row_major[r]))
        ax.xaxis.set_major_locator(MultipleLocator(100))
        ax.xaxis.set_minor_locator(MultipleLocator(20))
        ax.set_xlim(-21.25, 446.25)
        ax.grid(True, which='major', color='#dcdcdc', lw=0.8)
        ax.grid(True, which='minor', axis='x', color='#e4e4e4', lw=0.6, ls='--')
        for sp in ax.spines.values():
            sp.set_color(spine_col)
            sp.set_linewidth(0.9)
        ax.tick_params(which='both', color=spine_col, labelsize=tick_fs, labelcolor=txt_col)
        ax.tick_params(which='major', length=3.5)
        ax.tick_params(which='minor', length=2)
        if r in (1, 3, 4):
            ax.ticklabel_format(axis='y', style='sci', scilimits=(0, 0))
            ax.yaxis.get_offset_text().set_fontsize(tick_fs)
            ax.yaxis.get_offset_text().set_color(txt_col)
        if c > 0:
            ax.tick_params(labelleft=False)
            ax.yaxis.get_offset_text().set_visible(False)
        else:
            ax.set_ylabel(row_labels[r], fontsize=11.3, color=txt_col)
            ax.yaxis.set_label_coords(-0.34, 0.5)
        if r < 4:
            ax.tick_params(labelbottom=False)
        else:
            ax.set_xlabel('t', fontsize=11.3, color=txt_col)
        if r == 0:
            ax.set_title(r'$\sigma$²$_{a_0}$ = ' + sigmas[c], fontsize=10.3, pad=14, color=txt_col)

for c in range(7):
    plt.setp(axes[4][c].get_xticklabels(), rotation=45, ha='center')

# icons on top (equal scale in x and y)
icon_h = 95
for c in range(7):
    axi = fig.add_axes([col_left[c] / W, 1 - icon_h / H, pw / W, icon_h / H])
    axi.plot(icon_x[c], icon_y[c], color='black', lw=2.3, marker='o', ms=3.5)
    axi.set_xlim(-65 / 102, 65 / 102)
    axi.set_ylim(-48.5 / 102, 46.5 / 102)
    axi.axis('off')

fig.legend(handles, series_labels, loc='upper center', bbox_to_anchor=(0.534, 1 - 1045 / H),
           ncol=5, fontsize=11.4, borderaxespad=0, frameon=True)

fig.savefig('out.png', dpi=100)
